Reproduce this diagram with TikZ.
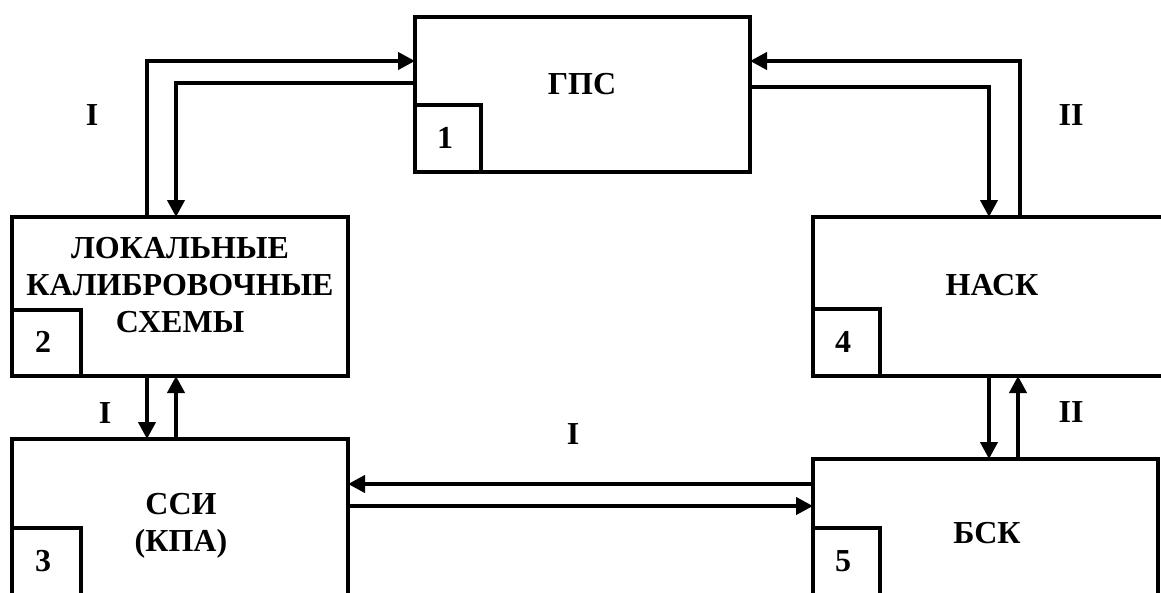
\documentclass[tikz,border=0pt]{standalone}
\usepackage{fontspec}
\setmainfont{Liberation Serif}
\usetikzlibrary{arrows.meta}
\begin{document}
\begin{tikzpicture}[x=1pt,y=-1pt,
  box/.style={draw,line width=4.6pt,inner sep=0pt,outer sep=0pt,anchor=north west},
  lbl/.style={font=\fontsize{32}{37}\selectfont\bfseries,align=center,inner sep=0pt},
  arr/.style={line width=4pt,-{Triangle[length=17pt,width=17pt]}}]
\useasboundingbox (0,0) rectangle (1161,592);
\clip (0,0) rectangle (1161,592);
% boxes
\node[box,minimum width=335pt,minimum height=155pt] (gps) at (415,17) {};
\node[box,minimum width=66pt,minimum height=67pt] (n1) at (415,105) {};
\node[box,minimum width=336pt,minimum height=159pt] (lok) at (12,217) {};
\node[box,minimum width=69pt,minimum height=66pt] (n2) at (12,310) {};
\node[box,minimum width=336pt,minimum height=220pt] (ssi) at (12,439) {};
\node[box,minimum width=69pt,minimum height=130pt] (n3) at (12,528) {};
\node[box,minimum width=400pt,minimum height=159pt] (nask) at (813,217) {};
\node[box,minimum width=67pt,minimum height=67pt] (n4) at (813,309) {};
\node[box,minimum width=345pt,minimum height=200pt] (bsk) at (813,459) {};
\node[box,minimum width=67pt,minimum height=130pt] (n5) at (813,528) {};
% texts
\node[lbl] (tgps) at (582,84) {ГПС};
\node[lbl] (tlok) at (180,285) {ЛОКАЛЬНЫЕ\\КАЛИБРОВОЧНЫЕ\\СХЕМЫ};
\node[lbl] (tssi) at (181,526) {ССИ\\(КПА)};
\node[lbl] (tnask) at (992,285) {НАСК};
\node[lbl] (tbsk) at (987,533) {БСК};
\node[lbl] (t1) at (445,138) {1};
\node[lbl] (t2) at (43,342) {2};
\node[lbl] (t3) at (43,561) {3};
\node[lbl] (t4) at (843,342) {4};
\node[lbl] (t5) at (843,561) {5};
\node[lbl] (l1) at (92,115) {I};
\node[lbl] (l2) at (1071,115) {II};
\node[lbl] (l3) at (105,413) {I};
\node[lbl] (l4) at (1071,412) {II};
\node[lbl] (l5) at (573,434) {I};
% connectors
\draw[arr] ([xshift=135pt]lok.north west) |- ([yshift=-44pt]gps.north west);
\draw[arr] ([yshift=-66pt]gps.north west) -| ([xshift=164pt]lok.north west);
\draw[arr] ([xshift=207pt]nask.north west) |- ([yshift=-44pt]gps.north east);
\draw[arr] ([yshift=-70pt]gps.north east) -| ([xshift=176pt]nask.north west);
\draw[arr] ([xshift=135pt]lok.south west) -- ([xshift=135pt]ssi.north west);
\draw[arr] ([xshift=164pt]ssi.north west) -- ([xshift=164pt]lok.south west);
\draw[arr] ([xshift=176pt]nask.south west) -- ([xshift=176pt]bsk.north west);
\draw[arr] ([xshift=205pt]bsk.north west) -- ([xshift=205pt]nask.south west);
\draw[arr] ([yshift=-25pt]bsk.north west) -- ([yshift=-45pt]ssi.north east);
\draw[arr] ([yshift=-67pt]ssi.north east) -- ([yshift=-47pt]bsk.north west);
\end{tikzpicture}
\end{document}
